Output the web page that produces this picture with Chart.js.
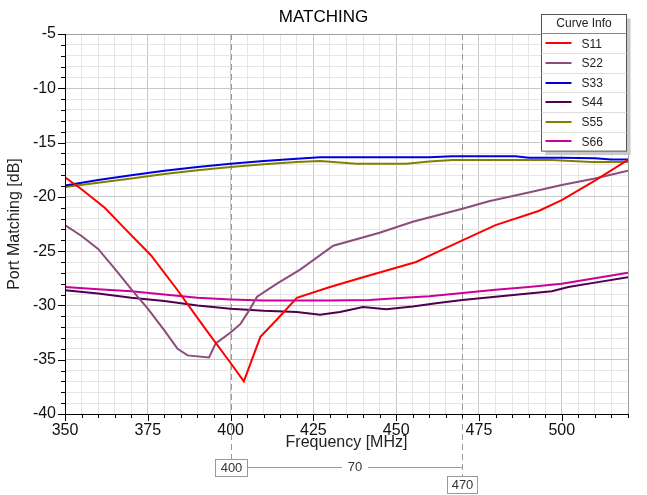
<!DOCTYPE html>
<html>
<head>
<meta charset="utf-8">
<script src="https://cdn.jsdelivr.net/npm/chart.js@4.4.1/dist/chart.umd.min.js"></script>
<style>
  html, body { margin: 0; padding: 0; background: #fff; }
  #wrap { width: 647px; height: 495px; position: relative; }
</style>
</head>
<body>
<div id="wrap"><canvas id="myChart" width="647" height="495"></canvas></div>
<script>
// values
const curveNames = ['S11', 'S22', 'S33', 'S44', 'S55', 'S66']
const curveColors = ['#ff0000', '#8c4c7c', '#0000dd', '#500050', '#808000', '#cc0099']

const s11Freq = [350, 355, 362, 368, 376, 384, 392, 400, 404, 409, 414, 420, 430, 440, 456, 463, 470, 480, 493, 500, 510, 520]
const s11Vals = [-18.2, -19.3, -21.0, -22.9, -25.4, -28.6, -32.0, -35.3, -37.0, -32.9, -31.3, -29.3, -28.3, -27.4, -26.0, -25.0, -24.0, -22.6, -21.3, -20.3, -18.5, -16.6]

const s22Freq = [350, 355, 360, 365, 370, 375, 380, 384, 387, 393.5, 395.5, 400, 403, 405.5, 408, 414, 421, 431, 445, 455, 470, 478, 490, 500, 510, 520]
const s22Vals = [-22.6, -23.6, -24.8, -26.6, -28.5, -30.3, -32.3, -34.0, -34.6, -34.8, -33.5, -32.5, -31.7, -30.5, -29.2, -28.0, -26.7, -24.5, -23.3, -22.3, -21.1, -20.4, -19.6, -18.9, -18.3, -17.6]

const s33Freq = [350, 360, 370, 380, 390, 400, 410, 420, 427, 440, 460, 467, 486, 490, 500, 510, 515, 520]
const s33Vals = [-18.95, -18.45, -18.0, -17.6, -17.25, -16.95, -16.7, -16.5, -16.35, -16.35, -16.35, -16.25, -16.25, -16.4, -16.4, -16.45, -16.55, -16.55]

const s44Freq = [350, 360, 370, 380, 390, 400, 410, 420, 427, 433, 440, 447, 455, 462, 470, 480, 490, 497, 502, 510, 520]
const s44Vals = [-28.6, -28.9, -29.3, -29.6, -30.0, -30.3, -30.5, -30.6, -30.85, -30.6, -30.15, -30.35, -30.1, -29.8, -29.5, -29.2, -28.9, -28.7, -28.3, -27.9, -27.4]

const s55Freq = [350, 360, 370, 380, 390, 400, 410, 420, 427, 438, 453, 460, 467, 480, 497, 509, 520]
const s55Vals = [-19.1, -18.7, -18.3, -17.9, -17.55, -17.25, -17.0, -16.8, -16.7, -16.95, -16.95, -16.75, -16.6, -16.6, -16.6, -16.8, -16.8]

const s66Freq = [350, 360, 370, 380, 390, 400, 410, 420, 430, 442, 450, 460, 470, 480, 490, 500, 510, 520]
const s66Vals = [-28.3, -28.5, -28.7, -29.0, -29.3, -29.45, -29.55, -29.55, -29.55, -29.5, -29.35, -29.15, -28.85, -28.55, -28.3, -28.0, -27.5, -27.0]

const allFreq = [s11Freq, s22Freq, s33Freq, s44Freq, s55Freq, s66Freq]
const allVals = [s11Vals, s22Vals, s33Vals, s44Vals, s55Vals, s66Vals]

const markers = [400, 470]
const xMin = 350, xMax = 520, yMin = -40, yMax = -5

const FONT = 'Liberation Sans, Arial, sans-serif'

function pts(f, v) {
    return f.map((x, i) => ({ x: x, y: v[i] }))
}

const datasets = curveNames.map((name, i) => ({
    label: name,
    data: pts(allFreq[i], allVals[i]),
    borderColor: curveColors[i],
    backgroundColor: curveColors[i],
    borderWidth: 2,
    pointRadius: 0,
    showLine: true,
    tension: 0
}))

// everything around the plot area: title, axis titles, ticks, markers, legend
const extras = {
    id: 'extras',
    beforeDatasetsDraw(chart) {
        const ctx = chart.ctx
        const xs = chart.scales.x
        const top = chart.chartArea.top
        ctx.save()
        ctx.strokeStyle = '#999'
        ctx.lineWidth = 1
        ctx.setLineDash([6, 4])
        markers.forEach((m, i) => {
            const px = Math.round(xs.getPixelForValue(m)) + 0.5
            ctx.beginPath()
            ctx.moveTo(px, top)
            ctx.lineTo(px, i === 0 ? 459 : 476)
            ctx.stroke()
        })
        ctx.restore()
    },
    afterDraw(chart) {
        const ctx = chart.ctx
        const xs = chart.scales.x, ys = chart.scales.y
        const a = chart.chartArea
        ctx.save()

        // frame
        ctx.strokeStyle = '#a0a0a0'
        ctx.lineWidth = 1
        ctx.beginPath()
        ctx.moveTo(a.left, Math.round(a.top) + 0.5)
        ctx.lineTo(Math.round(a.right) + 0.5, Math.round(a.top) + 0.5)
        ctx.lineTo(Math.round(a.right) + 0.5, a.bottom)
        ctx.stroke()
        ctx.strokeStyle = '#000'
        ctx.beginPath()
        ctx.moveTo(Math.round(a.left) + 0.5, a.top)
        ctx.lineTo(Math.round(a.left) + 0.5, Math.round(a.bottom) + 0.5)
        ctx.lineTo(a.right, Math.round(a.bottom) + 0.5)
        ctx.stroke()

        // ticks
        ctx.beginPath()
        for (let v = yMin; v <= yMax; v++) {
            const py = Math.round(ys.getPixelForValue(v)) + 0.5
            const len = v % 5 === 0 ? 7 : 4
            ctx.moveTo(a.left - len, py)
            ctx.lineTo(a.left, py)
        }
        for (let v = xMin; v <= xMax; v += 5) {
            const px = Math.round(xs.getPixelForValue(v)) + 0.5
            const len = v % 25 === 0 ? 7 : 4
            ctx.moveTo(px, a.bottom)
            ctx.lineTo(px, a.bottom + len)
        }
        ctx.stroke()

        // titles
        ctx.fillStyle = '#000'
        ctx.textAlign = 'center'
        ctx.textBaseline = 'middle'
        ctx.font = '17px ' + FONT
        ctx.fillText('MATCHING', chart.width / 2, 17)
        ctx.fillStyle = '#222'
        ctx.font = '16px ' + FONT
        ctx.fillText('Frequency [MHz]', (a.left + a.right) / 2, 443)
        ctx.save()
        ctx.translate(15, (a.top + a.bottom) / 2)
        ctx.rotate(-Math.PI / 2)
        ctx.fillText('Port Matching [dB]', 0, 0)
        ctx.restore()

        // marker boxes and delta line
        const m0 = Math.round(xs.getPixelForValue(markers[0])) + 0.5
        const m1 = Math.round(xs.getPixelForValue(markers[1])) + 0.5
        ctx.font = '13px ' + FONT
        ctx.strokeStyle = '#999'
        ctx.fillStyle = '#fff'
        ctx.fillRect(m0 - 16, 459.5, 32, 17)
        ctx.strokeRect(m0 - 16, 459.5, 32, 17)
        ctx.fillRect(m1 - 15, 476.5, 30, 17)
        ctx.strokeRect(m1 - 15, 476.5, 30, 17)
        const mid = (m0 + 16 + m1) / 2
        ctx.beginPath()
        ctx.moveTo(m0 + 16, 467.5)
        ctx.lineTo(mid - 13, 467.5)
        ctx.moveTo(mid + 13, 467.5)
        ctx.lineTo(m1, 467.5)
        ctx.stroke()
        ctx.fillStyle = '#333'
        ctx.fillText(String(markers[0]), m0, 468)
        ctx.fillText(String(markers[1]), m1, 485)
        ctx.fillText(String(markers[1] - markers[0]), mid, 467)

        // legend box
        const lx = 541.5, ly = 14.5, lw = 85, rowH = 19.6, headH = 19
        const lh = headH + rowH * curveNames.length
        ctx.fillStyle = '#c8c8c8'
        ctx.fillRect(lx + 4, ly + 4, lw, lh)
        ctx.fillStyle = '#fff'
        ctx.fillRect(lx, ly, lw, lh)
        ctx.strokeStyle = '#555'
        ctx.strokeRect(lx, ly, lw, lh)
        ctx.fillStyle = '#222'
        ctx.font = '12px ' + FONT
        ctx.fillText('Curve Info', lx + lw / 2, ly + headH / 2)
        ctx.strokeStyle = '#888'
        ctx.beginPath()
        ctx.moveTo(lx, ly + headH)
        ctx.lineTo(lx + lw, ly + headH)
        ctx.stroke()
        ctx.textAlign = 'left'
        chart.data.datasets.forEach((ds, i) => {
            const cy = ly + headH + rowH * i + rowH / 2
            if (i > 0) {
                ctx.strokeStyle = '#ddd'
                ctx.beginPath()
                ctx.moveTo(lx, Math.round(cy - rowH / 2) + 0.5)
                ctx.lineTo(lx + lw, Math.round(cy - rowH / 2) + 0.5)
                ctx.stroke()
            }
            ctx.strokeStyle = ds.borderColor
            ctx.lineWidth = 2
            ctx.beginPath()
            ctx.moveTo(lx + 4, Math.round(cy))
            ctx.lineTo(lx + 30, Math.round(cy))
            ctx.stroke()
            ctx.lineWidth = 1
            ctx.fillStyle = '#222'
            ctx.fillText(ds.label, lx + 40, cy + 1)
        })
        ctx.restore()
    }
}

let ctx = document.getElementById('myChart').getContext('2d');
let myChart = new Chart(ctx, {
    type: 'scatter',
    data: { datasets: datasets },
    options: {
        responsive: false,
        animation: false,
        layout: { padding: { top: 34, right: 19, bottom: 0, left: 0 } },
        plugins: {
            legend: { display: false },
            tooltip: { enabled: false },
            title: { display: false }
        },
        scales: {
            x: {
                type: 'linear',
                min: xMin,
                max: xMax,
                afterFit: s => { s.height = 81 },
                border: { display: false },
                grid: {
                    color: c => (c.tick && c.tick.value % 25 === 0) ? '#c8c8c8' : '#e6e6e6',
                    tickLength: 7,
                    tickColor: 'transparent'
                },
                ticks: {
                    stepSize: 5,
                    autoSkip: false,
                    maxRotation: 0,
                    padding: 0,
                    color: '#111',
                    font: { family: FONT, size: 16 },
                    callback: v => v % 25 === 0 ? v : ''
                }
            },
            y: {
                min: yMin,
                max: yMax,
                afterFit: s => { s.width = 65 },
                border: { display: false },
                grid: {
                    color: c => (c.tick && c.tick.value % 5 === 0) ? '#c8c8c8' : '#e6e6e6',
                    tickLength: 7,
                    tickColor: 'transparent'
                },
                ticks: {
                    stepSize: 1,
                    autoSkip: false,
                    padding: 2,
                    color: '#111',
                    font: { family: FONT, size: 16 },
                    callback: v => v % 5 === 0 ? v : ''
                }
            }
        }
    },
    plugins: [extras]
});
</script>
</body>
</html>
